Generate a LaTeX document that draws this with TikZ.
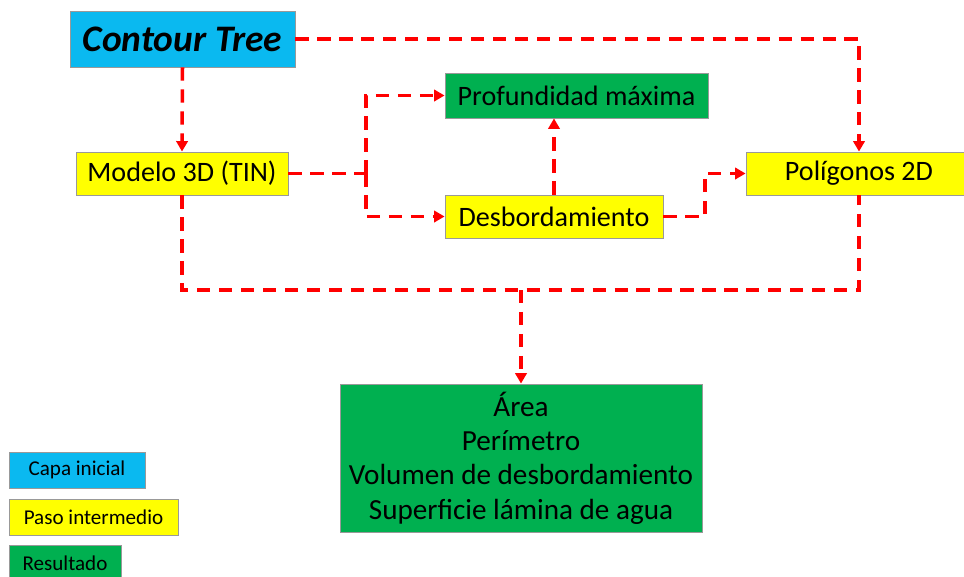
\documentclass[tikz,border=0pt]{standalone}
\usepackage{fontspec}
\setmainfont{Carlito}
\usepackage{xcolor}
\usetikzlibrary{arrows.meta,shadows}
\definecolor{capa}{RGB}{10,185,240}
\definecolor{paso}{RGB}{255,255,0}
\definecolor{resul}{RGB}{0,176,80}
\begin{document}
\begin{tikzpicture}[x=0.02cm,y=-0.02cm,
        box/.style={draw=black!40,line width=0.5pt,inner sep=0pt,
            drop shadow={shadow xshift=0.8pt,shadow yshift=-0.8pt,opacity=0.35},
            font=\fontsize{16}{19.6}\selectfont},
        legend/.style={box,minimum height=0.72cm,font=\fontsize{12}{14}\selectfont},
        flow/.style={red,line width=2pt,dash pattern=on 7.5pt off 5pt},
        tip/.style={-{Triangle[length=6pt,width=6.5pt]}}]
        \clip (0,0) rectangle (964,576);
        % boxes
        \node[box,fill=capa,minimum width=4.5cm,minimum height=1.12cm,
            font=\fontsize{21.3}{24}\selectfont\bfseries\itshape] (ct) at (182.5,39) {Contour Tree};
        \node[box,fill=paso,minimum width=4.24cm,minimum height=0.86cm] (tin) at (182,173.5) {Modelo 3D (TIN)};
        \node[box,fill=resul,minimum width=5.26cm,minimum height=0.9cm] (prof) at (576.5,95.5) {Profundidad máxima};
        \node[box,fill=paso,minimum width=4.36cm,minimum height=0.86cm] (desb) at (554,216.5) {Desbordamiento};
        \node[box,fill=paso,minimum width=4.52cm,minimum height=0.86cm] (pol) at (859,173.5) {Polígonos 2D};
        \node[box,fill=resul,minimum width=7.24cm,minimum height=2.96cm,align=center,
            font=\fontsize{16.6}{19.6}\selectfont] (res) at (521,458)
            {Área\\Perímetro\\Volumen de desbordamiento\\Superficie lámina de agua};
        % legend
        \node[legend,fill=capa,minimum width=2.72cm] (lcapa) at (77,470) {Capa inicial};
        \node[legend,fill=paso,minimum width=3.38cm] (lpaso) at (93.5,517) {Paso intermedio};
        \node[legend,fill=resul,minimum width=2.24cm] (lresul) at (65,563) {Resultado};
        % connectors
        \coordinate (s) at (366,173.5);
        \coordinate (d) at (705,216.5);
        \coordinate (j) at (521,290);
        \draw[flow,tip] (ct.south) -- (tin.north);
        \draw[flow,tip] (ct.east) -| (pol.north);
        \draw[flow] (tin.east) -- (s);
        \draw[flow,tip] (s) |- (prof.west);
        \draw[flow,tip] (s) |- (desb.west);
        \draw[flow,tip] (desb.north) -- (desb.north |- prof.south);
        \draw[flow,tip] (desb.east) -- (d) |- (pol.west);
        \draw[flow] (tin.south) -- (tin.south |- j) -- (j -| pol.south) -- (pol.south);
        \draw[flow,tip] (j) -- (res.north);
\end{tikzpicture}
\end{document}
